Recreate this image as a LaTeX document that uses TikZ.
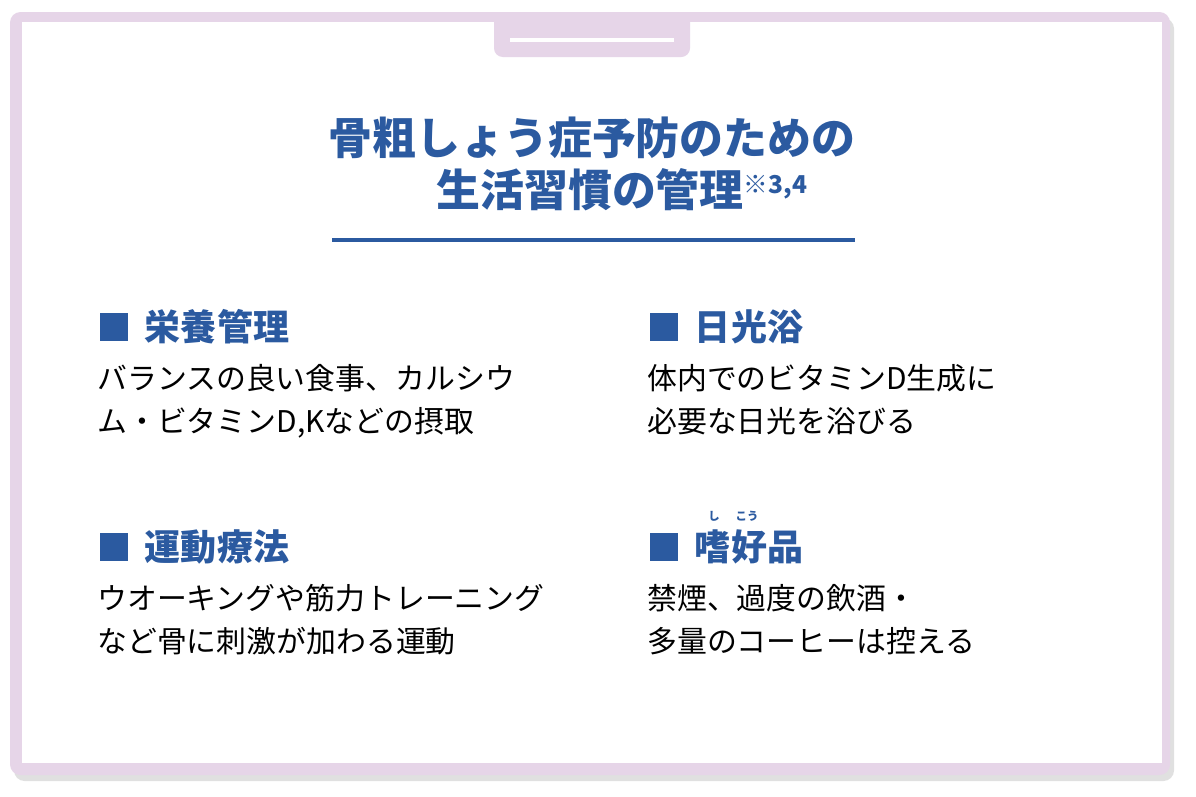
\documentclass[tikz,border=0pt]{standalone}
\usepackage{fontspec}
\newfontfamily\jp{Noto Sans CJK JP}
\usetikzlibrary{positioning}
\definecolor{lilac}{HTML}{E6D5E8}
\definecolor{navy}{HTML}{2B5AA0}
\tikzset{
  heading/.style={anchor=west, inner sep=0pt, text=navy, font=\jp\bfseries\fontsize{20.5}{20.5}\selectfont},
  bodytext/.style={anchor=north west, inner sep=0pt, align=left, font=\jp\fontsize{17}{24.5}\selectfont},
  marker/.style={fill=navy, minimum size=16pt, inner sep=0pt, anchor=west},
  ruby/.style={inner sep=0pt, text=navy, font=\jp\bfseries\fontsize{6.5}{7}\selectfont}
}
\begin{document}
\begin{tikzpicture}[x=0.02cm, y=-0.02cm]
                \useasboundingbox (0,0) rectangle (1196,796);
                % Frame
                \fill[black!12, rounded corners=6pt] (14,18) rectangle (1174,781);
                \fill[lilac, rounded corners=6pt] (10,12) rectangle (1170,775);
                \fill[white] (22,22) rectangle (1162,763);
                \fill[lilac, rounded corners=5pt] (494,12) -- (494,57) -- (690,57) -- (690,12) -- cycle;
                \fill[lilac] (494,12) rectangle (690,30);
                \fill[white] (510,38) rectangle (674,42);

                % Title
                \node[inner sep=0pt, text=navy, font=\jp\bfseries\fontsize{25}{25}\selectfont] (title1) at (592,138) {骨粗しょう症予防のための};
                \node[inner sep=0pt, text=navy, font=\jp\bfseries\fontsize{25}{25}\selectfont, anchor=west] (title2) at (436,190) {生活習慣の管理\raisebox{0.55ex}{\fontsize{14}{14}\selectfont ※3,4}};
                \draw[navy, line width=2pt] (332,240) -- (855,240);

                % Sections
                \node[marker] (m1) at (100,327) {};
                \node[heading, right=9pt of m1] (h1) {栄養管理};
                \node[bodytext] (b1) at (97,364) {バランスの良い食事、カルシウ\\ム・ビタミンD,Kなどの摂取};

                \node[marker] (m2) at (650,327) {};
                \node[heading, right=9pt of m2] (h2) {日光浴};
                \node[bodytext] (b2) at (647,364) {体内でのビタミンD生成に\\必要な日光を浴びる};

                \node[marker] (m3) at (100,547) {};
                \node[heading, right=9pt of m3] (h3) {運動療法};
                \node[bodytext] (b3) at (97,584) {ウオーキングや筋力トレーニング\\など骨に刺激が加わる運動};

                \node[marker] (m4) at (650,547) {};
                \node[heading, right=9pt of m4] (h4) {嗜好品};
                \node[bodytext] (b4) at (647,584) {禁煙、過度の飲酒・\\多量のコーヒーは控える};
                \node[ruby] (r1) at (714,516) {し};
                \node[ruby] (r2) at (747,516) {こう};
            \end{tikzpicture}
\end{document}
